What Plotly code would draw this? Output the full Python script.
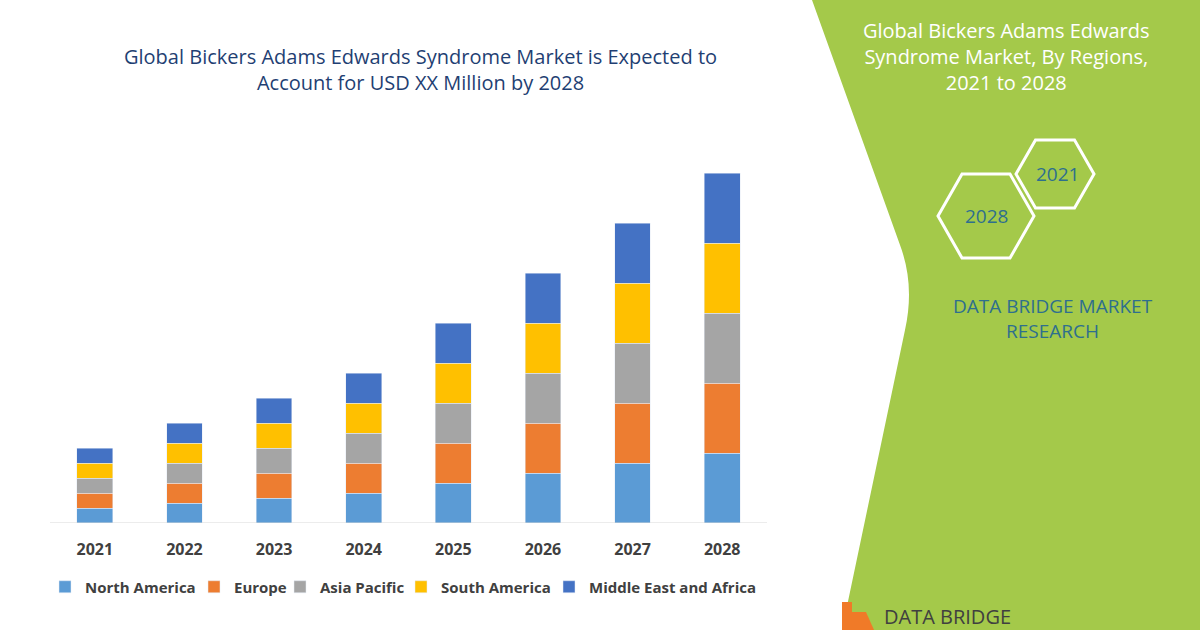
import plotly.graph_objects as go

years = ["2021", "2022", "2023", "2024", "2025", "2026", "2027", "2028"]
north_america = [15, 20, 25, 30, 40, 50, 60, 70]
europe = [15, 20, 25, 30, 40, 50, 60, 70]
asia_pacific = [15, 20, 25, 30, 40, 50, 60, 70]
south_america = [15, 20, 25, 30, 40, 50, 60, 70]
mea = [15, 20, 25, 30, 40, 50, 60, 70]

series = [
    ("North America", north_america, "#5b9bd5"),
    ("Europe", europe, "#ed7d31"),
    ("Asia Pacific", asia_pacific, "#a5a5a5"),
    ("South America", south_america, "#ffc000"),
    ("Middle East and Africa", mea, "#4472c4"),
]
# left edge of each legend swatch, in pixels
legend_x = [58, 207, 293, 414, 562]

W, H = 1200, 630
L, R, T, B = 50, 433, 123, 107


def px(x):
    return (x - L) / (W - L - R)


def py(y):
    return (H - B - y) / (H - T - B)


fig = go.Figure()
legends = {}
for i, (name, vals, col) in enumerate(series):
    key = "legend" if i == 0 else f"legend{i + 1}"
    fig.add_trace(go.Bar(x=years, y=vals, name=name, marker_color=col, legend=key))
    legends[key] = dict(orientation="h", x=px(legend_x[i] - 13), xanchor="left", y=py(587), yanchor="middle",
                        font=dict(size=15, color="#404040", weight="bold"), itemwidth=30,
                        bgcolor="rgba(0,0,0,0)")

green = "#a4c94a"
shapes = [
    dict(type="path", xref="paper", yref="paper", layer="below",
         path=f"M {px(812)},{py(0)} L {px(1200)},{py(0)} L {px(1200)},{py(630)} "
              f"L {px(842)},{py(630)} L {px(905)},{py(330)} Q {px(915)},{py(285)} {px(900)},{py(245)} Z",
         fillcolor=green, line_width=0),
    dict(type="line", xref="paper", yref="y", x0=0, x1=1, y0=0, y1=0,
         line=dict(color="#d9d9d9", width=1)),
]


def hexagon(cx, cy, w, h):
    pts = [(cx - w / 2, cy), (cx - w / 4, cy - h / 2), (cx + w / 4, cy - h / 2),
           (cx + w / 2, cy), (cx + w / 4, cy + h / 2), (cx - w / 4, cy + h / 2)]
    p = "M " + " L ".join(f"{px(a)},{py(b)}" for a, b in pts) + " Z"
    return dict(type="path", xref="paper", yref="paper", path=p,
                line=dict(color="white", width=3), fillcolor="rgba(0,0,0,0)")


shapes += [hexagon(1055, 174, 78, 68), hexagon(986, 216, 96, 84)]
shapes.append(dict(type="rect", xref="paper", yref="paper", x0=px(842), x1=px(852),
                   y0=py(630), y1=py(602), fillcolor="#f07a28", line_width=0))
shapes.append(dict(type="path", xref="paper", yref="paper",
                   path=f"M {px(852)},{py(612)} L {px(866)},{py(612)} L {px(874)},{py(630)} L {px(852)},{py(630)} Z",
                   fillcolor="#f07a28", line_width=0))


def note(text, x, y, size, color, anchor="center"):
    return dict(text=text, x=px(x), y=py(y), xref="paper", yref="paper", showarrow=False,
                xanchor=anchor, yanchor="middle", font=dict(size=size, color=color, family="Open Sans"))


annotations = [
    note("Global Bickers Adams Edwards Syndrome Market is Expected to<br>Account for USD XX Million by 2028",
         420, 69, 20, "#1f3f73"),
    note("Global Bickers Adams Edwards<br>Syndrome Market, By Regions,<br>2021 to 2028", 1006, 57, 20, "white"),
    note("2021", 1057, 174, 19, "#2e6f8e"),
    note("2028", 986, 216, 19, "#2e6f8e"),
    note("DATA BRIDGE MARKET<br>RESEARCH", 1053, 318, 19, "#2e6f8e"),
    note("DATA BRIDGE", 882, 616, 20, "#404040", "left"),
]

fig.update_layout(
    width=W, height=H, barmode="stack", bargap=0.6,
    margin=dict(l=L, r=R, t=T, b=B),
    plot_bgcolor="white", paper_bgcolor="white",
    font=dict(family="Open Sans", color="#404040"),
    xaxis=dict(showline=False, ticks="", ticklabelstandoff=15,
               tickfont=dict(size=16, color="#404040", weight="bold")),
    yaxis=dict(range=[0, 400], visible=False),
    shapes=shapes, annotations=annotations, showlegend=True,
    **legends,
)

fig.write_html("out.html", config={"displayModeBar": False},
               post_script="document.body.style.margin='0';")
